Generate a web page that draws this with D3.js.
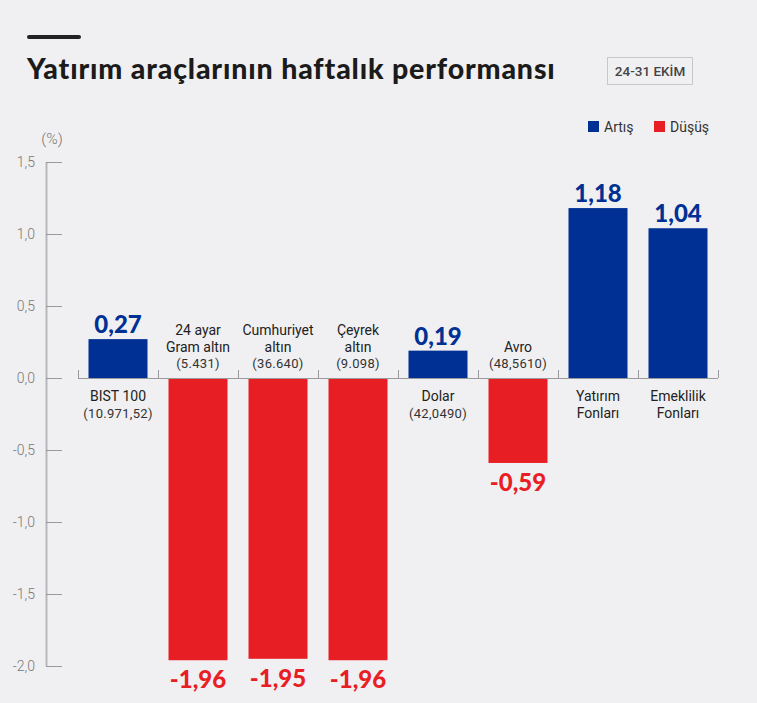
<!DOCTYPE html>
<html><head><meta charset="utf-8">
<script src="https://cdn.jsdelivr.net/npm/d3@7"></script>
<style>
html,body{margin:0;padding:0;background:#f0f0f2;}
svg{display:block;}
</style></head>
<body>
<svg id="c" width="757" height="703"></svg>
<script>
const categories = ["BIST 100","24 ayar Gram altın","Cumhuriyet altın","Çeyrek altın","Dolar","Avro","Yatırım Fonları","Emeklilik Fonları"];
const labelLines = [["BIST 100"],["24 ayar","Gram altın"],["Cumhuriyet","altın"],["Çeyrek","altın"],["Dolar"],["Avro"],["Yatırım","Fonları"],["Emeklilik","Fonları"]];
const prices = ["(10.971,52)","(5.431)","(36.640)","(9.098)","(42,0490)","(48,5610)",null,null];
const values = [0.27,-1.96,-1.95,-1.96,0.19,-0.59,1.18,1.04];
const valueLabels = ["0,27","-1,96","-1,95","-1,96","0,19","-0,59","1,18","1,04"];
const yTicks = [1.5,1.0,0.5,0.0,-0.5,-1.0,-1.5,-2.0];
const yTickLabels = ["1,5","1,0","0,5","0,0","-0,5","-1,0","-1,5","-2,0"];
const legendItems = ["Artış","Düşüş"];

const BLUE="#003094", RED="#e81e25";
const svg=d3.select("#c");

// header
svg.append("line").attr("x1",29).attr("x2",79).attr("y1",37).attr("y2",37)
  .attr("stroke","#222").attr("stroke-width",4).attr("stroke-linecap","round");
svg.append("text").attr("x",27).attr("y",79).text("Yatırım araçlarının haftalık performansı")
  .attr("font-family","Lato, sans-serif").attr("font-weight",900).attr("font-size",28.5)
  .attr("letter-spacing",0.85).attr("fill","#1b1b1b");
svg.append("rect").attr("x",607.5).attr("y",57.5).attr("width",85).attr("height",27)
  .attr("fill","#f0f0f2").attr("stroke","#c8c8cc");
svg.append("text").attr("x",650).attr("y",76).attr("text-anchor","middle").text("24-31 EKİM")
  .attr("font-family","Roboto, sans-serif").attr("font-size",13.5).attr("font-weight",500).attr("fill","#444");

// legend
const lg=svg.append("g");
[[588,BLUE],[654,RED]].forEach((d,i)=>{
  lg.append("rect").attr("x",d[0]).attr("y",121).attr("width",11).attr("height",11).attr("fill",d[1]);
  lg.append("text").attr("x",d[0]+16).attr("y",132).text(legendItems[i])
    .attr("font-family","Roboto, sans-serif").attr("font-size",14).attr("fill","#333");
});

// scales
const y=d3.scaleLinear().domain([-2,1.5]).range([666,162]);
const x=d3.scaleBand().domain(categories).range([78,718]).paddingInner(0.2625).paddingOuter(0.13125);

// y axis
const yAxis=d3.axisRight(y).tickValues(yTicks).tickSize(16).tickFormat("");
const ya=svg.append("g").attr("transform","translate(46,0)").call(yAxis);
ya.select(".domain").attr("d",`M0.5,${y(1.5)}V${y(-2)}`).attr("stroke","#b8b8bc").attr("stroke-width",2);
ya.selectAll(".tick line").attr("stroke","#9a9a9e");
svg.append("g").selectAll("text").data(yTicks).join("text")
  .attr("x",35).attr("y",d=>y(d)+5).attr("text-anchor","end")
  .text((d,i)=>yTickLabels[i]).attr("font-family","Roboto, sans-serif").attr("font-weight",300)
  .attr("font-size",14).attr("fill","#777");
svg.append("text").attr("x",52).attr("y",144).attr("text-anchor","middle").text("(%)")
  .attr("font-family","Roboto, sans-serif").attr("font-weight",300).attr("font-size",15.5).attr("fill","#777");

// bars
svg.append("g").selectAll("rect").data(values).join("rect")
  .attr("x",(d,i)=>x(categories[i])).attr("width",x.bandwidth())
  .attr("y",d=>y(Math.max(0,d))).attr("height",d=>Math.abs(y(d)-y(0)))
  .attr("fill",d=>d>=0?BLUE:RED);

// category axis
const step=x.step();
const xa=svg.append("g").attr("transform",`translate(0,${y(0)})`);
xa.append("line").attr("x1",78).attr("x2",718).attr("y1",0.5).attr("y2",0.5).attr("stroke","#9a9a9e");
xa.selectAll(".tk").data(d3.range(categories.length+1)).join("line").attr("class","tk")
  .attr("x1",i=>78.5+i*step).attr("x2",i=>78.5+i*step).attr("y1",0).attr("y2",-8).attr("stroke","#9a9a9e");

// value labels
svg.append("g").selectAll("text").data(values).join("text")
  .attr("x",(d,i)=>x(categories[i])+x.bandwidth()/2)
  .attr("y",d=>d>=0?y(d)-6:y(d)+28)
  .attr("text-anchor","middle").text((d,i)=>valueLabels[i])
  .attr("font-family","Lato, sans-serif").attr("font-weight",900).attr("font-size",24)
  .attr("fill",d=>d>=0?BLUE:RED);

// category labels
values.forEach((v,i)=>{
  const cx=x(categories[i])+x.bandwidth()/2;
  const lines=labelLines[i].map(t=>({t,s:14,c:"#222"}));
  if(prices[i]) lines.push({t:prices[i],s:13,c:"#333"});
  const lh=16.5;
  let y0;
  if(v>=0){ y0=y(0)+23; }
  else { y0=y(0)-10-(lines.length-1)*lh; }
  lines.forEach((l,k)=>{
    svg.append("text").attr("x",cx).attr("y",y0+k*lh).attr("text-anchor","middle").text(l.t)
      .attr("font-family","Roboto, sans-serif").attr("font-size",l.s).attr("fill",l.c)
      .attr("letter-spacing",l.t.startsWith("(")?0.3:0);
  });
});
</script>
</body></html>
